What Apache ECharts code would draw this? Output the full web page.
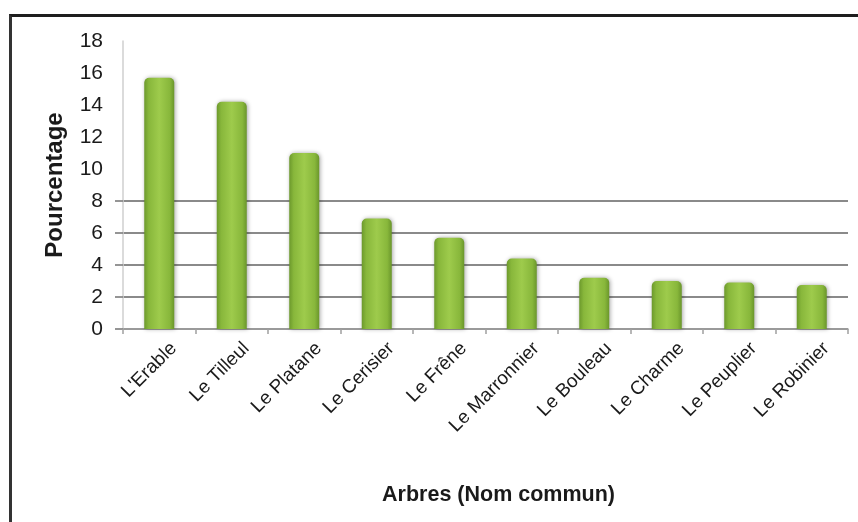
<!DOCTYPE html>
<html>
<head>
<meta charset="utf-8">
<script src="https://cdn.jsdelivr.net/npm/echarts@6/dist/echarts.min.js"></script>
<style>
html,body{margin:0;padding:0;background:#fff;}
#frame{position:absolute;left:9px;top:14px;width:849px;height:508px;border-top:3px solid #1e1e1e;border-left:3px solid #333;box-sizing:border-box;}
#chart{position:absolute;left:0;top:0;width:858px;height:522px;}
</style>
</head>
<body>
<div id="frame"></div>
<div id="chart"></div>
<script>
const categories = ["L'Erable", "Le Tilleul", "Le Platane", "Le Cerisier", "Le Frêne", "Le Marronnier", "Le Bouleau", "Le Charme", "Le Peuplier", "Le Robinier"];
const percentages = [15.7, 14.2, 11.0, 6.9, 5.7, 4.4, 3.2, 3.0, 2.9, 2.75];
const gridTicks = [0, 2, 4, 6, 8];
const xTitle = "Arbres (Nom commun)";
const yTitle = "Pourcentage";

const chart = echarts.init(document.getElementById('chart'), null, {renderer: 'canvas'});
const font = "'Liberation Sans', Arial, sans-serif";
chart.setOption({
  animation: false,
  backgroundColor: 'transparent',
  grid: {left: 123, right: 10, top: 41, bottom: 193, containLabel: false},
  xAxis: {
    type: 'category',
    data: categories,
    name: xTitle,
    nameLocation: 'middle',
    nameGap: 155,
    nameTextStyle: {fontFamily: font, fontWeight: 'bold', fontSize: 21.5, color: '#1a1a1a', padding: [0, 0, 0, 26]},
    axisLine: {show: true, lineStyle: {color: '#a0a0a0', width: 1.5}},
    axisTick: {show: true, alignWithLabel: false, length: 5, lineStyle: {color: '#a0a0a0', width: 1.5}},
    axisLabel: {rotate: 45, fontFamily: font, fontSize: 19, color: '#1a1a1a', margin: 2, interval: 0, verticalAlign: 'top', padding: [11, 0, 0, 0]},
    splitLine: {show: false}
  },
  yAxis: {
    type: 'value',
    min: 0, max: 18, interval: 2,
    name: yTitle,
    nameLocation: 'middle',
    nameGap: 56,
    nameTextStyle: {fontFamily: font, fontWeight: 'bold', fontSize: 24, color: '#1a1a1a'},
    axisLine: {show: true, lineStyle: {color: '#cfcfcf', width: 1.5}},
    axisTick: {show: true, length: 8, customValues: gridTicks, lineStyle: {color: '#8a8a8a', width: 1.8}},
    axisLabel: {fontFamily: font, fontSize: 21, color: '#1a1a1a', margin: 20},
    splitLine: {show: true, lineStyle: {color: '#8a8a8a', width: 1.8}}
  },
  series: [{
    type: 'bar',
    data: percentages,
    barWidth: 30,
    z: 3,
    itemStyle: {
      borderRadius: [5, 5, 0, 0],
      shadowBlur: 4,
      shadowColor: 'rgba(0,0,0,0.35)',
      shadowOffsetX: 1,
      shadowOffsetY: 0,
      color: new echarts.graphic.LinearGradient(0, 0, 1, 0, [
        {offset: 0, color: '#6c992c'},
        {offset: 0.15, color: '#88b73b'},
        {offset: 0.5, color: '#9ecb4c'},
        {offset: 0.85, color: '#88b73b'},
        {offset: 1, color: '#6a962b'}
      ])
    }
  }]
});
</script>
</body>
</html>
